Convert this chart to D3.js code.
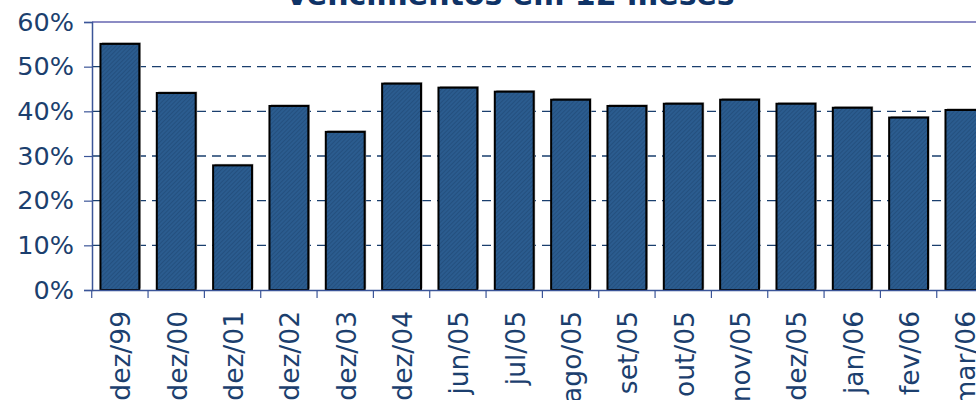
<!DOCTYPE html>
<html><head><meta charset="utf-8">
<script src="https://cdn.jsdelivr.net/npm/d3@7"></script>
<style>html,body{margin:0;padding:0;background:#fff;overflow:hidden}</style>
</head><body>
<svg id="c" width="976" height="400"></svg>
<script>
const title = "Vencimentos em 12 meses";
const categories = ["dez/99","dez/00","dez/01","dez/02","dez/03","dez/04","jun/05","jul/05","ago/05","set/05","out/05","nov/05","dez/05","jan/06","fev/06","mar/06"];
const values = [55.1,44.1,27.9,41.2,35.4,46.2,45.3,44.4,42.6,41.2,41.7,42.6,41.7,40.8,38.6,40.3];
const yTicks = [0,10,20,30,40,50,60];

const svg = d3.select("#c");
const textColor = "#1c3f6e";
const font = "DejaVu Sans, Verdana, sans-serif";

const x = d3.scaleBand().domain(categories).range([92, 92 + 16*56.3]).paddingInner(0.31).paddingOuter(0.15);
const y = d3.scaleLinear().domain([0, 60]).range([290, 22]);

const defs = svg.append("defs");
const pat = defs.append("pattern").attr("id","tex").attr("patternUnits","userSpaceOnUse")
  .attr("width",3).attr("height",3).attr("patternTransform","rotate(45)");
pat.append("rect").attr("width",3).attr("height",3).attr("fill","#2b5c8f");
pat.append("rect").attr("width",1).attr("height",3).attr("fill","#24507f");

// title
svg.append("text").attr("x", 510).attr("y", 5).attr("text-anchor","middle")
  .attr("font-family", font).attr("font-weight","bold").attr("font-size", 30)
  .attr("fill", "#0f3366").text(title);

// gridlines
svg.append("g").selectAll("line").data(yTicks.filter(t => t > 0 && t < 60)).join("line")
  .attr("x1", 92).attr("x2", 976).attr("y1", d => y(d)).attr("y2", d => y(d))
  .attr("stroke", "#1a3f6e").attr("stroke-width", 1.3).attr("stroke-dasharray", "9,6");

// top border
svg.append("line").attr("x1", 92).attr("x2", 976).attr("y1", y(60)).attr("y2", y(60))
  .attr("stroke", "#1a1a8a").attr("stroke-width", 1.2);

// shadows
svg.append("g").selectAll("rect").data(values).join("rect")
  .attr("x", (d,i) => x(categories[i]) + 1.5).attr("y", d => y(d) - 1.5)
  .attr("width", x.bandwidth()).attr("height", d => y(0) - y(d))
  .attr("fill", "#a0a0a0");

// bars
svg.append("g").selectAll("rect").data(values).join("rect")
  .attr("x", (d,i) => x(categories[i])).attr("y", d => y(d))
  .attr("width", x.bandwidth()).attr("height", d => y(0) - y(d))
  .attr("fill", "url(#tex)").attr("stroke", "#000").attr("stroke-width", 2);

// y axis
const yAxis = svg.append("g").attr("transform", "translate(92,0)")
  .call(d3.axisLeft(y).tickValues(yTicks).tickFormat(d => d + "%").tickSize(8).tickPadding(10));
yAxis.select(".domain").attr("stroke", "#3b5598").attr("stroke-width", 1.5);
yAxis.selectAll(".tick line").attr("stroke", "#3b5598").attr("stroke-width", 1.2);
yAxis.selectAll("text").attr("font-family", font).attr("font-size", 25.5).attr("fill", textColor);

// x axis
const xAxis = svg.append("g").attr("transform", `translate(0,${y(0)})`)
  .call(d3.axisBottom(x).tickSize(0).tickSizeOuter(0));
xAxis.select(".domain").attr("stroke", "#3b5598").attr("stroke-width", 1.5);
xAxis.selectAll(".tick line").remove();
// category boundary ticks
const step = x.step();
svg.append("g").selectAll("line").data(categories).join("line")
  .attr("x1", c => x(c) - step*x.paddingInner()/2).attr("x2", c => x(c) - step*x.paddingInner()/2)
  .attr("y1", y(0)).attr("y2", y(0) + 8)
  .attr("stroke", "#3b5598").attr("stroke-width", 1.2);
xAxis.selectAll("text")
  .attr("font-family", font).attr("font-size", 26.5).attr("fill", textColor)
  .attr("text-anchor", "end").attr("dy", "0.35em")
  .attr("transform", "translate(1,21) rotate(-90)")
  .attr("x", 0).attr("y", 0);
</script>
</body></html>
